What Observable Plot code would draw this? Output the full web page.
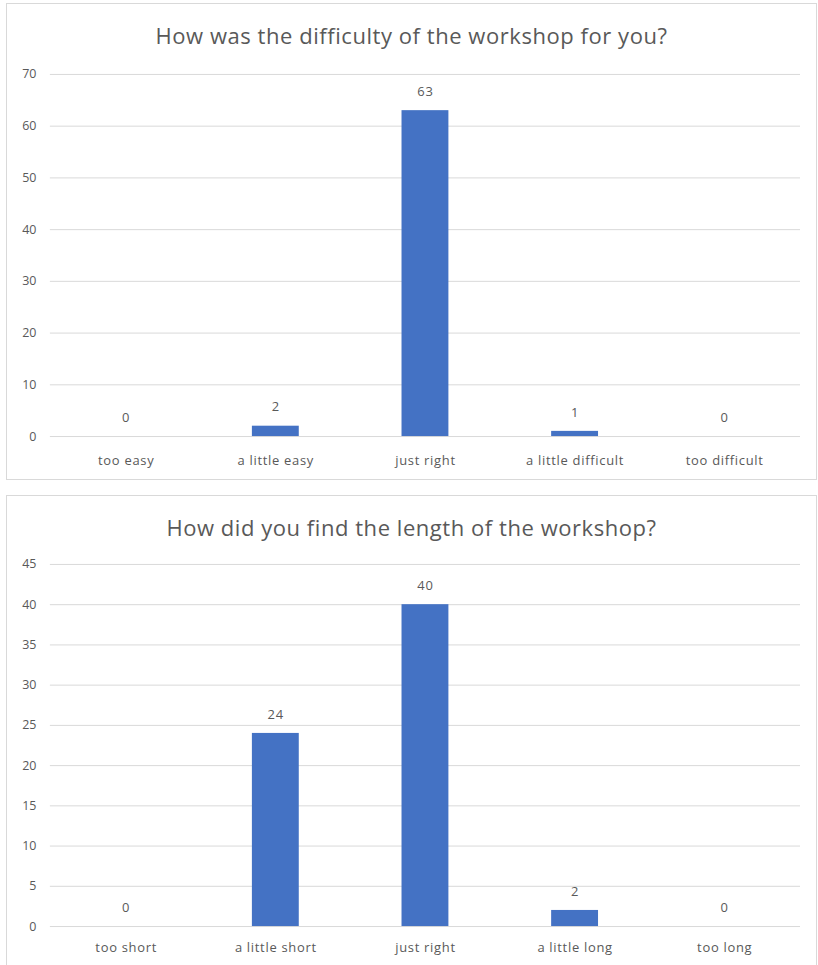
<!DOCTYPE html>
<html>
<head>
<meta charset="utf-8">
<script src="https://cdn.jsdelivr.net/npm/d3@7"></script>
<script src="https://cdn.jsdelivr.net/npm/@observablehq/plot@0.6"></script>
<style>
  body { margin: 0; background: #fff; width: 818px; height: 965px; overflow: hidden; position: relative; font-family: "Open Sans", Lato, sans-serif; }
  .panel { position: absolute; left: 6px; width: 811px; border: 1px solid #d9d9d9; background: #fff; box-sizing: border-box; }
  .title { position: absolute; left: 0; width: 100%; text-align: center; font-size: 22px; letter-spacing: 0.55px; color: #595959; line-height: 1; }
  .chart { position: absolute; left: -7px; }
</style>
</head>
<body>
<div class="panel" id="p1" style="top:3px;height:477px;">
  <div class="title" style="top:20px;">How was the difficulty of the workshop for you?</div>
  <div class="chart" id="c1" style="top:47px;"></div>
</div>
<div class="panel" id="p2" style="top:495px;height:480px;">
  <div class="title" style="top:20px;">How did you find the length of the workshop?</div>
  <div class="chart" id="c2" style="top:45px;"></div>
</div>
<script>
// Survey responses: workshop difficulty
const difficultyLevels = ["too easy", "a little easy", "just right", "a little difficult", "too difficult"];
const difficultyCounts = [0, 2, 63, 1, 0];
const difficultyTicks = [0, 10, 20, 30, 40, 50, 60, 70];

// Survey responses: workshop length
const lengthLevels = ["too short", "a little short", "just right", "a little long", "too long"];
const lengthCounts = [0, 24, 40, 2, 0];
const lengthTicks = [0, 5, 10, 15, 20, 25, 30, 35, 40, 45];

const barColor = "#4472c4";
const gridColor = "#d9d9d9";
const textColor = "#595959";
const font = "'Open Sans', Lato, sans-serif";

function columnChart(levels, counts, ticks, opts) {
  const rows = levels.map((level, i) => ({level, count: counts[i]}));
  const chart = Plot.plot({
    width: 818,
    height: opts.height,
    marginLeft: 50,
    marginRight: 16,
    marginTop: opts.marginTop,
    marginBottom: opts.marginBottom,
    style: {fontFamily: font, fontSize: "12px", color: textColor, background: "transparent"},
    x: {domain: levels, padding: 0, label: null},
    y: {domain: [0, ticks[ticks.length - 1]], label: null},
    marks: [
      Plot.ruleY(ticks, {stroke: gridColor, strokeWidth: 1}),
      Plot.barY(rows, {x: "level", y: "count", fill: barColor, insetLeft: 51.5, insetRight: 51.5}),
      Plot.text(rows, {x: "level", y: "count", text: d => String(d.count), dy: -19, fill: textColor, fontSize: 13, className: "value-label"}),
      Plot.axisX({tickSize: 0, tickPadding: opts.xPad, fontSize: 13, className: "cat-axis"}),
      Plot.axisY({ticks, tickSize: 0, tickPadding: 14, fontSize: 12.5})
    ]
  });
  chart.querySelectorAll(".cat-axis text").forEach(t => t.setAttribute("letter-spacing", "0.7"));
  chart.querySelectorAll(".value-label text").forEach(t => t.setAttribute("letter-spacing", "0.8"));
  return chart;
}

document.getElementById("c1").append(
  columnChart(difficultyLevels, difficultyCounts, difficultyTicks, {height: 430, marginTop: 23, marginBottom: 44, xPad: 19})
);
document.getElementById("c2").append(
  columnChart(lengthLevels, lengthCounts, lengthTicks, {height: 430, marginTop: 23, marginBottom: 44, xPad: 16})
);
</script>
</body>
</html>
